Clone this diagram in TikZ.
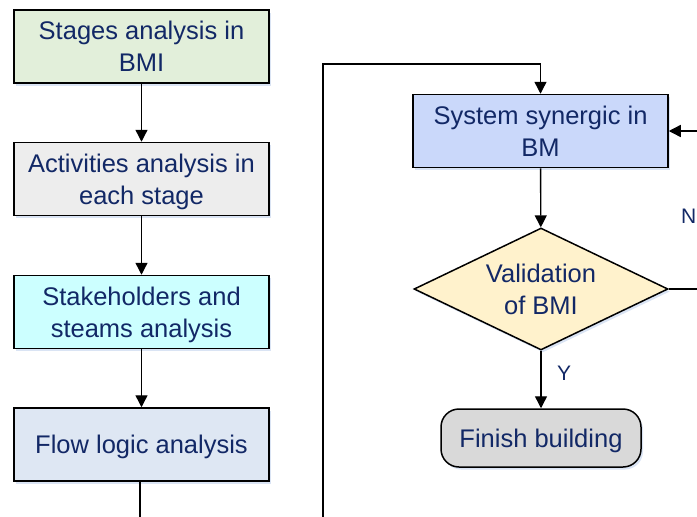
\documentclass[tikz,border=0pt]{standalone}
\usepackage{fontspec}
\setmainfont{Liberation Sans}
\usetikzlibrary{arrows.meta,shapes.geometric,shadows}
\definecolor{txt}{RGB}{18,40,102}
\definecolor{fgreen}{RGB}{226,239,218}
\definecolor{fgray}{RGB}{237,237,237}
\definecolor{fcyan}{RGB}{204,255,255}
\definecolor{fsteel}{RGB}{222,231,243}
\definecolor{fblue}{RGB}{202,216,250}
\definecolor{fyellow}{RGB}{255,242,204}
\definecolor{fend}{RGB}{217,217,217}
\definecolor{shade}{RGB}{218,228,244}
\tikzset{
  base/.style={draw=black, line width=1.5pt, text=txt, align=center,
    font=\fontsize{25.5}{31.7}\selectfont, text depth=0pt,
    drop shadow={shadow xshift=2pt, shadow yshift=-2.5pt, fill=shade, opacity=1, draw=none}},
  procbox/.style={base, rectangle, minimum width=255pt, minimum height=73pt, inner sep=0pt},
  decision/.style={base, diamond, minimum width=254pt, minimum height=122pt, inner sep=0pt, aspect=2.08},
  terminal/.style={base, rectangle, rounded corners=18pt, minimum width=200pt, minimum height=58pt, inner sep=0pt},
  flow/.style={draw=black, line width=1.4pt, -{Triangle[width=12pt,length=12pt]}},
  plain/.style={draw=black, line width=1.4pt},
  lbl/.style={text=txt, font=\fontsize{21}{25}\selectfont, inner sep=0pt}
}
\begin{document}
\begin{tikzpicture}[x=1pt, y=-1pt]
\useasboundingbox (0,0) rectangle (697,517);

% left column of analysis steps
\node[procbox, fill=fgreen] (stages) at (141.5,46.5) {Stages analysis in\\BMI};
\node[procbox, fill=fgray] (activities) at (141.5,179) {Activities analysis in\\each stage};
\node[procbox, fill=fcyan] (stake) at (141.5,312) {Stakeholders and\\steams analysis};
\node[procbox, fill=fsteel] (flowlogic) at (141.5,444.5) {Flow logic analysis};

% right column: synergy, validation, finish
\node[procbox, fill=fblue] (synergy) at (540.5,131) {System synergic in\\BM};
\node[decision, fill=fyellow] (valid) at (541,289) {Validation\\of BMI};
\node[terminal, fill=fend] (finish) at (541,438) {Finish building};

% loose ends leaving the frame
\coordinate (downout) at (140,530);
\coordinate (upin) at (323,530);
\coordinate (topturn) at (323,64);
\coordinate (rightturn) at (712,289);

\draw[flow] (stages) -- (activities);
\draw[flow] (activities) -- (stake);
\draw[flow] (stake) -- (flowlogic);
\draw[plain] (flowlogic.south -| downout) -- (downout);

\draw[flow] (upin) -- (topturn) -| (synergy.north);
\draw[flow] (synergy) -- (valid);
\draw[flow] (valid) -- (finish);
\draw[flow] (valid.east) -- (rightturn) |- (synergy.east);

\node[lbl, anchor=base west] (ylabel) at (557,380.5) {Y};
\node[lbl, anchor=base west] (nlabel) at (681,223) {N};
\end{tikzpicture}
\end{document}
